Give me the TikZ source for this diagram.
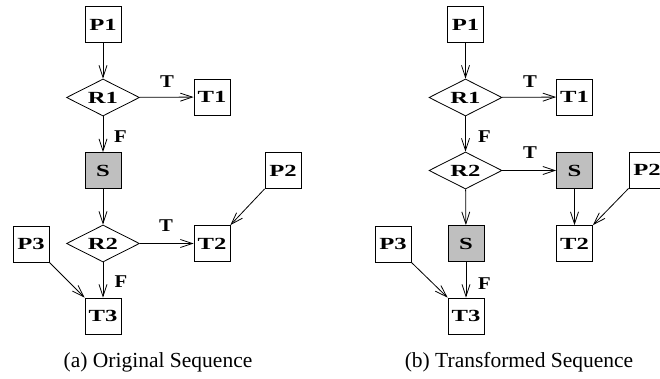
\documentclass[tikz,border=0pt]{standalone}
\usepackage{fontspec}
\setmainfont{Liberation Serif}
\newfontfamily\boxfont[FakeStretch=1.45]{Liberation Serif}
\newfontfamily\edgefont[FakeStretch=1.15]{Liberation Serif}
\usetikzlibrary{shapes.geometric, arrows.meta}

\begin{document}
\begin{tikzpicture}[x=1pt, y=-1pt, >={Straight Barb[length=12pt, width=8pt]}, block/.style = {rectangle, draw=black, line width=0.8pt, minimum width=36pt, minimum height=36pt, inner sep=0pt, font=\boxfont\bfseries\fontsize{17}{17}\selectfont}, sblock/.style = {block, fill=black!25}, cond/.style = {diamond, draw=black, line width=0.8pt, aspect=2, minimum width=73pt, minimum height=37pt, inner sep=0pt, font=\boxfont\bfseries\fontsize{17}{17}\selectfont}, tx/.style = {inner sep=0pt, font=\edgefont\bfseries\fontsize{18}{18}\selectfont}, line/.style = {->, line width=0.8pt}]
        \useasboundingbox (0, 0) rectangle (660, 379);

        % (a) original
        \draw (103, 24.5) node[block] (P1a) {P1};
        \draw (103, 97.5) node[cond] (R1a) {R1};
        \draw (212, 97) node[block] (T1a) {T1};
        \draw (103, 170.5) node[sblock] (Sa) {S};
        \draw (283, 170.5) node[block] (P2a) {P2};
        \draw (103, 243.5) node[cond] (R2a) {R2};
        \draw (212, 243.5) node[block] (T2a) {T2};
        \draw (31, 244) node[block] (P3a) {P3};
        \draw (103, 316) node[block] (T3a) {T3};

        \draw (167, 82) node[tx] (t1a) {T};
        \draw (120.5, 136.5) node[tx] (f1a) {F};
        \draw (166, 226) node[tx] (t2a) {T};
        \draw (121, 282) node[tx] (f2a) {F};

        \draw[line] (P1a) -- (R1a);
        \draw[line] (R1a) -- (T1a);
        \draw[line] (R1a) -- (Sa);
        \draw[line] (Sa) -- (R2a);
        \draw[line] (R2a) -- (T2a);
        \draw[line] (R2a) -- (T3a);
        \draw[line] (P2a.south west) -- (T2a.north east);
        \draw[line] (P3a.south east) -- (T3a.north west);

        % (b) transformed
        \draw (465.5, 24.5) node[block] (P1b) {P1};
        \draw (465.5, 97.5) node[cond] (R1b) {R1};
        \draw (574.5, 97) node[block] (T1b) {T1};
        \draw (465.5, 170.5) node[cond] (R2b) {R2};
        \draw (574.5, 170.5) node[sblock] (S1b) {S};
        \draw (647, 170) node[block] (P2b) {P2};
        \draw (466, 243.5) node[sblock] (S2b) {S};
        \draw (574.5, 243.5) node[block] (T2b) {T2};
        \draw (393, 244) node[block] (P3b) {P3};
        \draw (466, 316) node[block] (T3b) {T3};

        \draw (530, 82) node[tx] (t1b) {T};
        \draw (484.5, 137) node[tx] (f1b) {F};
        \draw (530, 153) node[tx] (t2b) {T};
        \draw (484.5, 283.5) node[tx] (f2b) {F};

        \draw[line] (P1b) -- (R1b);
        \draw[line] (R1b) -- (T1b);
        \draw[line] (R1b) -- (R2b);
        \draw[line] (R2b) -- (S1b);
        \draw[line] (R2b) -- (S2b);
        \draw[line] (S2b) -- (T3b);
        \draw[line] (S1b) -- (T2b);
        \draw[line] (P2b.south west) -- (T2b.north east);
        \draw[line] (P3b.south east) -- (T3b.north west);

        \draw (158, 362) node[font=\fontsize{21.5}{21.5}\selectfont] (capa) {(a) Original Sequence};
        \draw (519, 362) node[font=\fontsize{21.5}{21.5}\selectfont] (capb) {(b) Transformed Sequence};
      \end{tikzpicture}
\end{document}
